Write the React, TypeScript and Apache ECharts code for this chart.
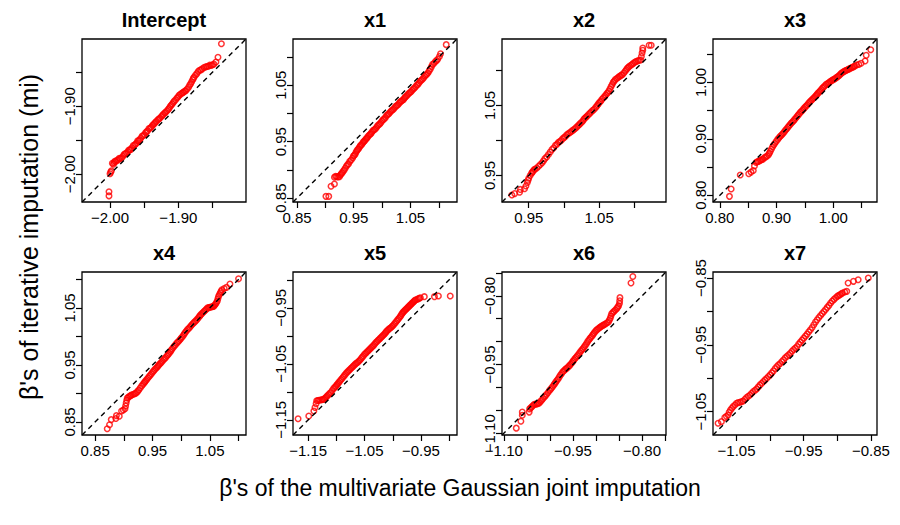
import React, { useEffect, useRef } from "react";
import * as echarts from "echarts";

// ---------- data ----------
const panelTitles = ["Intercept", "x1", "x2", "x3", "x4", "x5", "x6", "x7"];

// axis limits (same for x and y in each panel)
const limits: number[][] = [
  [-2.041, -1.801],
  [0.843, 1.132],
  [0.912, 1.145],
  [0.788, 1.077],
  [0.827, 1.113],
  [-1.177, -0.886],
  [-1.104, -0.748],
  [-1.085, -0.841],
];

const tickValues: number[][] = [
  [-2.0, -1.95, -1.9, -1.85],
  [0.85, 0.9, 0.95, 1.0, 1.05, 1.1],
  [0.95, 1.0, 1.05, 1.1],
  [0.8, 0.85, 0.9, 0.95, 1.0, 1.05],
  [0.85, 0.9, 0.95, 1.0, 1.05, 1.1],
  [-1.15, -1.1, -1.05, -1.0, -0.95, -0.9],
  [-1.1, -1.05, -1.0, -0.95, -0.9, -0.85, -0.8, -0.75],
  [-1.05, -1.0, -0.95, -0.9, -0.85],
];

const tickLabelValues: number[][] = [
  [-2.0, -1.9],
  [0.85, 0.95, 1.05],
  [0.95, 1.05],
  [0.8, 0.9, 1.0],
  [0.85, 0.95, 1.05],
  [-1.15, -1.05, -0.95],
  [-1.1, -0.95, -0.8],
  [-1.05, -0.95, -0.85],
];

const interceptPts: number[][] = [
  [-2.0015,-2.032],[-2.0015,-2.026],[-2.0,-1.9995],[-1.999,-1.997],[-1.998,-1.995],
  [-1.9966,-1.984],[-1.995,-1.9855],[-1.994,-1.983],[-1.993,-1.981],[-1.9916,-1.9815],[-1.99,-1.9795],
  [-1.988,-1.979],[-1.9865,-1.9765],[-1.985,-1.977],[-1.983,-1.976],[-1.981,-1.9735],[-1.9795,-1.971],
  [-1.978,-1.97],[-1.976,-1.969],[-1.974,-1.967],[-1.9725,-1.9645],[-1.971,-1.9645],[-1.9695,-1.9635],
  [-1.968,-1.961],[-1.966,-1.958],[-1.964,-1.957],[-1.9625,-1.9555],[-1.961,-1.954],[-1.9595,-1.951],
  [-1.958,-1.951],[-1.9565,-1.9495],[-1.955,-1.947],[-1.953,-1.944],[-1.951,-1.943],[-1.9495,-1.9415],
  [-1.948,-1.939],[-1.9465,-1.9375],[-1.945,-1.936],[-1.943,-1.933],[-1.941,-1.932],[-1.9395,-1.9305],
  [-1.938,-1.9285],[-1.9365,-1.927],[-1.935,-1.9255],[-1.9335,-1.9235],[-1.932,-1.922],[-1.93,-1.92],
  [-1.9285,-1.9187],[-1.927,-1.9175],[-1.925,-1.9155],[-1.9235,-1.9135],[-1.922,-1.912],[-1.92,-1.91],
  [-1.9187,-1.909],[-1.917,-1.907],[-1.915,-1.905],[-1.9135,-1.903],[-1.912,-1.9005],[-1.9105,-1.8985],
  [-1.909,-1.8966],[-1.9075,-1.8945],[-1.906,-1.8925],[-1.904,-1.8905],[-1.902,-1.888],[-1.9005,-1.8865],
  [-1.899,-1.884],[-1.897,-1.8825],[-1.895,-1.881],[-1.8935,-1.88],[-1.892,-1.879],[-1.8905,-1.8775],
  [-1.889,-1.877],[-1.887,-1.8745],[-1.885,-1.872],[-1.8835,-1.869],[-1.882,-1.867],[-1.8805,-1.864],
  [-1.879,-1.861],[-1.878,-1.859],[-1.877,-1.857],[-1.875,-1.8545],[-1.873,-1.852],[-1.871,-1.849],
  [-1.869,-1.847],[-1.867,-1.8465],[-1.865,-1.845],[-1.8625,-1.843],[-1.86,-1.842],[-1.858,-1.8415],
  [-1.856,-1.841],[-1.854,-1.8395],[-1.852,-1.84],[-1.85,-1.839],[-1.848,-1.838],[-1.845,-1.835],
  [-1.842,-1.828],[-1.837,-1.808],
];

const x1Pts: number[][] = [
  [0.901,0.853],[0.906,0.853],[0.91,0.871],[0.916,0.875],[0.916,0.887],[0.918,0.8885],[0.92,0.888],
  [0.9225,0.8875],[0.925,0.888],[0.9265,0.891],[0.928,0.893],[0.9295,0.8945],[0.931,0.897],[0.933,0.8995],
  [0.935,0.903],[0.937,0.9065],[0.939,0.909],[0.941,0.911],[0.943,0.915],[0.9455,0.9175],[0.948,0.921],
  [0.9495,0.9245],[0.951,0.926],[0.9525,0.9275],[0.954,0.931],[0.9555,0.934],[0.957,0.936],[0.9585,0.9375],
  [0.96,0.94],[0.9615,0.9425],[0.963,0.944],[0.9645,0.9455],[0.966,0.948],[0.9675,0.95],[0.969,0.951],
  [0.9705,0.9535],[0.972,0.955],[0.9735,0.9565],[0.975,0.959],[0.977,0.9615],[0.979,0.963],[0.9805,0.9645],
  [0.982,0.967],[0.984,0.9695],[0.986,0.971],[0.988,0.9725],[0.99,0.975],[0.992,0.978],[0.994,0.98],
  [0.996,0.9815],[0.998,0.984],[1.0,0.987],[1.002,0.989],[1.004,0.9905],[1.006,0.993],[1.008,0.9965],
  [1.01,0.998],[1.012,0.9995],[1.014,1.002],[1.016,1.0045],[1.018,1.006],[1.02,1.0075],[1.022,1.01],
  [1.024,1.0125],[1.026,1.014],[1.028,1.0155],[1.03,1.018],[1.032,1.0205],[1.034,1.022],[1.036,1.0235],
  [1.038,1.025],[1.0395,1.0275],[1.041,1.029],[1.043,1.031],[1.045,1.033],[1.047,1.0355],[1.049,1.037],
  [1.051,1.0385],[1.053,1.041],[1.055,1.0435],[1.057,1.045],[1.059,1.0475],[1.061,1.05],[1.063,1.0515],
  [1.065,1.054],[1.067,1.057],[1.069,1.059],[1.071,1.0605],[1.073,1.063],[1.075,1.066],[1.077,1.068],
  [1.079,1.0695],[1.081,1.072],[1.083,1.0755],[1.085,1.079],[1.087,1.083],[1.089,1.087],[1.0915,1.089],
  [1.094,1.092],[1.096,1.094],[1.098,1.096],[1.101,1.101],[1.103,1.106],[1.113,1.122],
];

const x2Pts: number[][] = [
  [0.926,0.922],[0.93,0.924],[0.937,0.926],[0.938,0.93],[0.944,0.931],[0.946,0.935],[0.948,0.94],
  [0.949,0.943],[0.95,0.946],[0.952,0.95],[0.954,0.953],[0.955,0.9545],[0.956,0.956],[0.9575,0.958],
  [0.959,0.959],[0.9615,0.9605],[0.964,0.963],[0.9665,0.9655],[0.969,0.968],[0.971,0.971],[0.973,0.974],
  [0.9755,0.9765],[0.978,0.98],[0.9805,0.9835],[0.983,0.987],[0.9855,0.9895],[0.988,0.993],[0.99,0.9945],
  [0.992,0.997],[0.994,0.9985],[0.996,1.0],[0.998,1.0025],[1.0,1.004],[1.002,1.0055],[1.004,1.008],
  [1.006,1.0095],[1.008,1.011],[1.01,1.0125],[1.012,1.014],[1.014,1.0155],[1.016,1.017],[1.018,1.019],
  [1.02,1.021],[1.0215,1.0225],[1.023,1.024],[1.025,1.026],[1.027,1.028],[1.0285,1.0305],[1.03,1.032],
  [1.0315,1.0335],[1.033,1.035],[1.035,1.037],[1.037,1.039],[1.039,1.041],[1.041,1.043],[1.043,1.0445],
  [1.045,1.047],[1.0465,1.049],[1.048,1.051],[1.0495,1.053],[1.051,1.055],[1.0525,1.0565],[1.054,1.059],
  [1.056,1.061],[1.058,1.063],[1.0595,1.065],[1.061,1.067],[1.0625,1.0685],[1.064,1.071],[1.0655,1.074],
  [1.067,1.077],[1.0685,1.08],[1.07,1.083],[1.0715,1.085],[1.073,1.087],[1.075,1.0885],[1.077,1.09],
  [1.0785,1.0915],[1.08,1.092],[1.0815,1.0935],[1.083,1.094],[1.085,1.0965],[1.087,1.099],[1.0885,1.101],
  [1.09,1.103],[1.0915,1.1045],[1.093,1.106],[1.095,1.1075],[1.097,1.109],[1.099,1.1105],[1.101,1.112],
  [1.103,1.113],[1.105,1.114],[1.107,1.1145],[1.109,1.115],[1.11,1.12],[1.111,1.125],[1.112,1.129],
  [1.112,1.132],[1.121,1.136],[1.124,1.136],
];

const x3Pts: number[][] = [
  [0.817,0.798],[0.82,0.811],[0.836,0.836],[0.851,0.838],[0.855,0.841],[0.859,0.844],[0.861,0.852],
  [0.864,0.858],[0.866,0.8595],[0.868,0.86],[0.87,0.861],[0.872,0.862],[0.874,0.8635],[0.876,0.864],
  [0.8785,0.8665],[0.881,0.868],[0.8835,0.8695],[0.886,0.872],[0.8875,0.875],[0.889,0.878],[0.891,0.882],
  [0.893,0.886],[0.895,0.889],[0.897,0.892],[0.8995,0.8955],[0.902,0.899],[0.904,0.9015],[0.906,0.904],
  [0.908,0.906],[0.91,0.908],[0.912,0.9105],[0.914,0.913],[0.916,0.9155],[0.918,0.918],[0.92,0.9205],
  [0.922,0.923],[0.924,0.9255],[0.926,0.928],[0.928,0.93],[0.93,0.932],[0.932,0.9345],[0.934,0.937],
  [0.936,0.9395],[0.938,0.942],[0.94,0.9445],[0.942,0.947],[0.944,0.949],[0.946,0.951],[0.948,0.9535],
  [0.95,0.956],[0.952,0.958],[0.954,0.96],[0.956,0.9625],[0.958,0.965],[0.96,0.967],[0.962,0.969],
  [0.964,0.971],[0.966,0.973],[0.968,0.975],[0.97,0.977],[0.9715,0.979],[0.973,0.981],[0.975,0.983],
  [0.977,0.985],[0.979,0.9875],[0.981,0.99],[0.983,0.992],[0.985,0.994],[0.9875,0.9965],[0.99,0.998],
  [0.992,0.9995],[0.994,1.001],[0.996,1.0025],[0.998,1.004],[1.0,1.005],[1.002,1.006],[1.004,1.0075],
  [1.006,1.009],[1.008,1.0105],[1.01,1.012],[1.012,1.014],[1.014,1.016],[1.016,1.0175],[1.018,1.019],
  [1.02,1.02],[1.022,1.021],[1.024,1.022],[1.026,1.023],[1.028,1.024],[1.03,1.025],[1.032,1.026],
  [1.034,1.027],[1.036,1.028],[1.038,1.029],[1.041,1.031],[1.045,1.032],[1.049,1.034],[1.056,1.038],
  [1.058,1.048],[1.066,1.058],
];

const x4Pts: number[][] = [
  [0.871,0.838],[0.875,0.845],[0.878,0.854],[0.886,0.856],[0.887,0.861],[0.892,0.86],[0.896,0.869],
  [0.899,0.871],[0.902,0.873],[0.903,0.878],[0.904,0.883],[0.905,0.888],[0.906,0.892],[0.908,0.8935],
  [0.91,0.895],[0.9115,0.896],[0.913,0.897],[0.9155,0.898],[0.918,0.899],[0.92,0.9],[0.922,0.901],
  [0.924,0.9035],[0.926,0.906],[0.9285,0.9095],[0.931,0.913],[0.933,0.9155],[0.935,0.918],[0.9365,0.92],
  [0.938,0.922],[0.94,0.9245],[0.942,0.927],[0.944,0.9295],[0.946,0.932],[0.948,0.9345],[0.95,0.937],
  [0.952,0.9395],[0.954,0.942],[0.956,0.944],[0.958,0.946],[0.9595,0.948],[0.961,0.95],[0.963,0.952],
  [0.965,0.954],[0.967,0.9565],[0.969,0.959],[0.971,0.961],[0.973,0.963],[0.975,0.9655],[0.977,0.968],
  [0.979,0.9705],[0.981,0.973],[0.9825,0.9755],[0.984,0.978],[0.986,0.9805],[0.988,0.983],[0.99,0.9855],
  [0.992,0.988],[0.994,0.99],[0.996,0.992],[0.998,0.9945],[1.0,0.997],[1.002,0.9995],[1.004,1.002],
  [1.0055,1.0045],[1.007,1.007],[1.009,1.0095],[1.011,1.012],[1.013,1.014],[1.015,1.016],[1.017,1.0185],
  [1.019,1.021],[1.021,1.023],[1.023,1.025],[1.025,1.027],[1.027,1.029],[1.029,1.0315],[1.031,1.034],
  [1.0325,1.036],[1.034,1.038],[1.036,1.04],[1.038,1.042],[1.04,1.044],[1.042,1.046],[1.044,1.048],
  [1.046,1.05],[1.048,1.0505],[1.05,1.051],[1.052,1.0515],[1.054,1.052],[1.0555,1.0525],[1.057,1.053],
  [1.0585,1.055],[1.06,1.057],[1.0615,1.0595],[1.063,1.062],[1.064,1.066],[1.065,1.07],[1.0665,1.073],
  [1.068,1.076],[1.0695,1.079],[1.071,1.082],[1.075,1.084],[1.079,1.086],[1.085,1.092],[1.1,1.101],
];

const x5Pts: number[][] = [
  [-1.168,-1.148],[-1.149,-1.143],[-1.14,-1.134],[-1.138,-1.128],[-1.136,-1.121],[-1.135,-1.116],
  [-1.133,-1.1155],[-1.131,-1.115],[-1.1285,-1.1145],[-1.126,-1.114],[-1.124,-1.1135],[-1.122,-1.113],
  [-1.12,-1.111],[-1.118,-1.109],[-1.116,-1.107],[-1.114,-1.105],[-1.112,-1.103],[-1.11,-1.101],
  [-1.1075,-1.0975],[-1.105,-1.094],[-1.103,-1.092],[-1.101,-1.09],[-1.0995,-1.088],[-1.098,-1.086],
  [-1.096,-1.0835],[-1.094,-1.081],[-1.092,-1.0785],[-1.09,-1.076],[-1.088,-1.0735],[-1.086,-1.071],
  [-1.084,-1.0685],[-1.082,-1.066],[-1.08,-1.064],[-1.078,-1.062],[-1.076,-1.06],[-1.074,-1.058],
  [-1.072,-1.056],[-1.07,-1.054],[-1.068,-1.052],[-1.066,-1.05],[-1.064,-1.0485],[-1.062,-1.047],
  [-1.06,-1.045],[-1.058,-1.043],[-1.056,-1.0405],[-1.054,-1.038],[-1.052,-1.0355],[-1.05,-1.033],
  [-1.048,-1.031],[-1.046,-1.029],[-1.044,-1.027],[-1.042,-1.025],[-1.04,-1.023],[-1.038,-1.021],
  [-1.036,-1.019],[-1.034,-1.017],[-1.032,-1.0145],[-1.03,-1.012],[-1.028,-1.01],[-1.026,-1.008],
  [-1.024,-1.006],[-1.022,-1.004],[-1.02,-1.002],[-1.018,-1.0],[-1.016,-0.998],[-1.014,-0.996],
  [-1.0125,-0.994],[-1.011,-0.992],[-1.009,-0.99],[-1.007,-0.988],[-1.005,-0.9865],[-1.003,-0.985],
  [-1.001,-0.983],[-0.999,-0.981],[-0.997,-0.9785],[-0.995,-0.976],[-0.993,-0.9735],[-0.991,-0.971],
  [-0.989,-0.9685],[-0.987,-0.966],[-0.9855,-0.9635],[-0.984,-0.961],[-0.9825,-0.959],[-0.981,-0.957],
  [-0.9795,-0.9555],[-0.978,-0.954],[-0.9765,-0.9525],[-0.975,-0.951],[-0.9735,-0.9495],[-0.972,-0.948],
  [-0.9705,-0.9465],[-0.969,-0.945],[-0.9675,-0.9435],[-0.966,-0.942],[-0.9645,-0.9405],[-0.963,-0.939],
  [-0.9615,-0.9375],[-0.96,-0.936],[-0.9575,-0.935],[-0.955,-0.934],[-0.953,-0.933],[-0.951,-0.932],
  [-0.944,-0.93],[-0.926,-0.93],[-0.919,-0.929],[-0.898,-0.929],
];

const x6Pts: number[][] = [
  [-1.073,-1.089],[-1.063,-1.074],[-1.06,-1.061],[-1.06,-1.054],[-1.045,-1.054],[-1.044,-1.047],
  [-1.0415,-1.0445],[-1.039,-1.042],[-1.0365,-1.0395],[-1.034,-1.037],[-1.031,-1.0365],[-1.028,-1.036],
  [-1.0255,-1.035],[-1.023,-1.034],[-1.0205,-1.031],[-1.018,-1.028],[-1.015,-1.0245],[-1.012,-1.021],
  [-1.0095,-1.018],[-1.007,-1.015],[-1.004,-1.011],[-1.001,-1.007],[-0.9985,-1.004],[-0.996,-1.001],
  [-0.9935,-0.9975],[-0.991,-0.994],[-0.989,-0.991],[-0.987,-0.988],[-0.9845,-0.9845],[-0.982,-0.981],
  [-0.9795,-0.977],[-0.977,-0.973],[-0.9745,-0.9695],[-0.972,-0.966],[-0.9695,-0.9635],[-0.967,-0.961],
  [-0.9645,-0.959],[-0.962,-0.957],[-0.9595,-0.9545],[-0.957,-0.952],[-0.9545,-0.949],[-0.952,-0.946],
  [-0.95,-0.943],[-0.948,-0.94],[-0.9455,-0.937],[-0.943,-0.934],[-0.9405,-0.931],[-0.938,-0.928],
  [-0.9355,-0.9245],[-0.933,-0.921],[-0.9305,-0.918],[-0.928,-0.915],[-0.9255,-0.9115],[-0.923,-0.908],
  [-0.9205,-0.904],[-0.918,-0.9],[-0.9155,-0.8965],[-0.913,-0.893],[-0.9105,-0.89],[-0.908,-0.887],
  [-0.906,-0.884],[-0.904,-0.881],[-0.9015,-0.878],[-0.899,-0.875],[-0.8965,-0.873],[-0.894,-0.871],
  [-0.8915,-0.869],[-0.889,-0.867],[-0.8865,-0.8655],[-0.884,-0.864],[-0.8815,-0.8625],[-0.879,-0.861],
  [-0.876,-0.859],[-0.873,-0.857],[-0.871,-0.853],[-0.869,-0.849],[-0.8675,-0.844],[-0.866,-0.839],
  [-0.8635,-0.8365],[-0.861,-0.834],[-0.858,-0.831],[-0.855,-0.828],[-0.853,-0.825],[-0.851,-0.822],
  [-0.849,-0.817],[-0.8485,-0.811],[-0.848,-0.804],[-0.824,-0.772],[-0.82,-0.758],
];

const x7Pts: number[][] = [
  [-1.0775,-1.0675],[-1.0725,-1.065],[-1.0675,-1.059],[-1.065,-1.057],[-1.0625,-1.055],[-1.061,-1.051],
  [-1.059,-1.0475],[-1.057,-1.045],[-1.055,-1.0425],[-1.0525,-1.04],[-1.05,-1.0375],[-1.0475,-1.0365],
  [-1.045,-1.036],[-1.0425,-1.035],[-1.04,-1.034],[-1.0375,-1.0315],[-1.035,-1.029],[-1.0325,-1.027],
  [-1.03,-1.025],[-1.0275,-1.0225],[-1.025,-1.02],[-1.0225,-1.018],[-1.02,-1.016],[-1.0175,-1.013],
  [-1.015,-1.01],[-1.0125,-1.0075],[-1.01,-1.005],[-1.0075,-1.0025],[-1.005,-1.0],[-1.0025,-0.9975],
  [-1.0,-0.995],[-0.9975,-0.992],[-0.995,-0.989],[-0.9925,-0.9855],[-0.99,-0.9825],[-0.9875,-0.98],
  [-0.985,-0.978],[-0.9825,-0.975],[-0.98,-0.9725],[-0.9775,-0.9695],[-0.975,-0.967],[-0.9725,-0.965],
  [-0.97,-0.9625],[-0.9675,-0.9595],[-0.965,-0.957],[-0.9625,-0.955],[-0.96,-0.9525],[-0.9575,-0.949],
  [-0.955,-0.946],[-0.9525,-0.943],[-0.95,-0.94],[-0.9475,-0.937],[-0.945,-0.934],[-0.9425,-0.9305],
  [-0.94,-0.9275],[-0.9375,-0.924],[-0.935,-0.92],[-0.9325,-0.916],[-0.93,-0.9125],[-0.9275,-0.909],
  [-0.925,-0.906],[-0.9225,-0.903],[-0.92,-0.9],[-0.9175,-0.897],[-0.915,-0.894],[-0.9125,-0.891],
  [-0.91,-0.8875],[-0.9075,-0.8845],[-0.905,-0.882],[-0.9025,-0.8795],[-0.9,-0.8775],[-0.898,-0.876],
  [-0.896,-0.875],[-0.894,-0.8735],[-0.8925,-0.8725],[-0.889,-0.871],[-0.886,-0.87],[-0.884,-0.8575],
  [-0.876,-0.855],[-0.869,-0.8525],[-0.854,-0.85],
];

const panelPoints = [interceptPts, x1Pts, x2Pts, x3Pts, x4Pts, x5Pts, x6Pts, x7Pts];

const xAxisTitle = "\u03b2's of the multivariate Gaussian joint imputation";
const yAxisTitle = "\u03b2's of iterative imputation (mi)";

// ---------- layout ----------
const colLeft = [82, 293, 502, 713];
const rowTop = [39, 272];
const panelW = 164;
const panelH = 163;
const FONT = '"Liberation Sans", Arial, Helvetica, sans-serif';

const fmt = (v: number) => (v < 0 ? "\u2212" + Math.abs(v).toFixed(2) : v.toFixed(2));

export default function App() {
  const ref = useRef<HTMLDivElement>(null);

  useEffect(() => {
    document.body.style.margin = "0";
    if (!ref.current) return;
    const chart = echarts.init(ref.current, null, { renderer: "svg" });

    const grids: any[] = [];
    const xAxes: any[] = [];
    const yAxes: any[] = [];
    const series: any[] = [];
    const graphics: any[] = [];

    panelTitles.forEach((title, i) => {
      const left = colLeft[i % 4];
      const top = rowTop[Math.floor(i / 4)];
      const [lo, hi] = limits[i];
      grids.push({
        left,
        top,
        width: panelW,
        height: panelH,
        show: true,
        borderColor: "#000",
        borderWidth: 1.3,
        backgroundColor: "transparent",
        containLabel: false,
      });
      const axisCommon = {
        type: "value",
        gridIndex: i,
        min: lo,
        max: hi,
        axisLine: { show: false, onZero: false },
        splitLine: { show: false },
        axisTick: {
          show: true,
          length: 6,
          inside: false,
          lineStyle: { color: "#000", width: 1.2 },
          customValues: tickValues[i],
        },
      };
      xAxes.push({
        ...axisCommon,
        position: "bottom",
        axisLabel: {
          customValues: tickLabelValues[i],
          formatter: fmt,
          color: "#000",
          fontSize: 15,
          fontFamily: FONT,
          margin: 8,
        },
      });
      yAxes.push({
        ...axisCommon,
        position: "left",
        axisLabel: {
          customValues: tickLabelValues[i],
          formatter: fmt,
          color: "#000",
          fontSize: 15,
          fontFamily: FONT,
          margin: 5,
          rotate: 90,
        },
      });
      series.push({
        type: "scatter",
        xAxisIndex: i,
        yAxisIndex: i,
        data: panelPoints[i],
        symbol: "circle",
        symbolSize: 5.5,
        itemStyle: { color: "rgba(0,0,0,0)", borderColor: "#ff0000", borderWidth: 1.5 },
        silent: true,
        z: 2,
      });
      series.push({
        type: "line",
        xAxisIndex: i,
        yAxisIndex: i,
        data: [
          [lo, lo],
          [hi, hi],
        ],
        symbol: "none",
        lineStyle: { color: "#000", width: 1.4, type: [5, 4] },
        silent: true,
        z: 3,
      });
      graphics.push({
        type: "text",
        x: left + panelW / 2,
        y: top - 19,
        style: {
          text: title,
          fill: "#000",
          font: `bold 20px ${FONT}`,
          align: "center",
          verticalAlign: "middle",
        },
      });
    });

    graphics.push({
      type: "text",
      x: 460,
      y: 488,
      style: {
        text: xAxisTitle,
        fill: "#000",
        font: `23px ${FONT}`,
        align: "center",
        verticalAlign: "middle",
      },
    });
    graphics.push({
      type: "text",
      x: 29,
      y: 237,
      rotation: Math.PI / 2,
      style: {
        text: yAxisTitle,
        fill: "#000",
        font: `25px ${FONT}`,
        align: "center",
        verticalAlign: "middle",
      },
    });

    chart.setOption({
      animation: false,
      backgroundColor: "#fff",
      grid: grids,
      xAxis: xAxes,
      yAxis: yAxes,
      series,
      graphic: graphics,
    });

    return () => chart.dispose();
  }, []);

  return <div ref={ref} style={{ width: 900, height: 525 }} />;
}
